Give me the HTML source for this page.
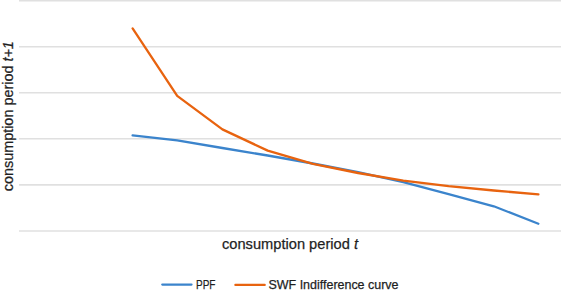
<!DOCTYPE html>
<html><head><meta charset="utf-8">
<style>
html,body{margin:0;padding:0;background:#fff;width:561px;height:293px;overflow:hidden}
svg{display:block}
text{font-family:"Liberation Sans",sans-serif;fill:#1f1f1f;stroke:#1f1f1f;stroke-width:0.25}
</style></head>
<body>
<svg width="561" height="293" viewBox="0 0 561 293" xmlns="http://www.w3.org/2000/svg">
<g stroke="#e0e0e0" stroke-width="1.6" fill="none">
<line x1="19" y1="0.6" x2="561" y2="0.6"/>
<line x1="19" y1="46.7" x2="561" y2="46.7"/>
<line x1="19" y1="92.8" x2="561" y2="92.8"/>
<line x1="19" y1="138.8" x2="561" y2="138.8"/>
<line x1="19" y1="184.9" x2="561" y2="184.9"/>
<line x1="19" y1="231" x2="561" y2="231"/>
</g>
<polyline fill="none" stroke="#3b84cc" stroke-width="2.3" stroke-linejoin="round" stroke-linecap="round"
 points="132.6,135.3 177.2,140.4 222.4,148 267.7,155.5 312.9,163.5 358.1,172.2 403.3,182.2 448.6,194.2 493.8,206.3 538.4,223.7"/>
<polyline fill="none" stroke="#e8630f" stroke-width="2.3" stroke-linejoin="round" stroke-linecap="round"
 points="132.6,28.4 177.2,95.9 222.4,129.4 267.7,150.6 312.9,163.8 358.1,173 403.3,180.6 448.6,186.1 493.8,190.5 538.4,194.4"/>
<text x="222" y="248.5" font-size="15" textLength="136" lengthAdjust="spacingAndGlyphs">consumption period <tspan font-style="italic">t</tspan></text>
<text transform="translate(13.2,191.3) rotate(-90)" x="0" y="0" font-size="15" textLength="150.2" lengthAdjust="spacingAndGlyphs">consumption period <tspan font-style="italic">t+1</tspan></text>
<line x1="162.3" y1="284.6" x2="191.5" y2="284.6" stroke="#3b84cc" stroke-width="2.3" stroke-linecap="round"/>
<text x="196" y="288.6" font-size="12.3" textLength="19.5" lengthAdjust="spacingAndGlyphs">PPF</text>
<line x1="235.4" y1="284.9" x2="264.7" y2="284.9" stroke="#e8630f" stroke-width="2.3" stroke-linecap="round"/>
<text x="268.5" y="288.6" font-size="12.3" textLength="130" lengthAdjust="spacingAndGlyphs">SWF Indifference curve</text>
</svg>
</body></html>
